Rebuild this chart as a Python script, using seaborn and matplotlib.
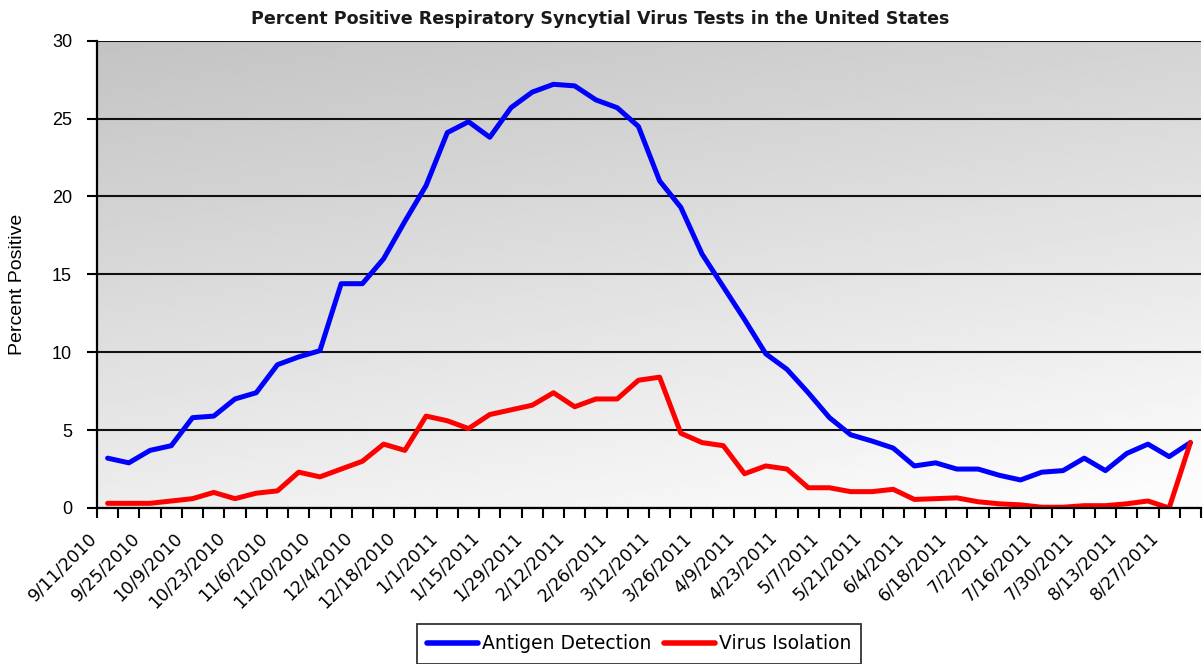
import numpy as np
import pandas as pd
import matplotlib
matplotlib.use("Agg")
import matplotlib.pyplot as plt
import seaborn as sns
from matplotlib.transforms import ScaledTranslation

# ---------------- data ----------------
tick_labels = ["9/11/2010", "9/25/2010", "10/9/2010", "10/23/2010", "11/6/2010",
               "11/20/2010", "12/4/2010", "12/18/2010", "1/1/2011", "1/15/2011",
               "1/29/2011", "2/12/2011", "2/26/2011", "3/12/2011", "3/26/2011",
               "4/9/2011", "4/23/2011", "5/7/2011", "5/21/2011", "6/4/2011",
               "6/18/2011", "7/2/2011", "7/16/2011", "7/30/2011", "8/13/2011",
               "8/27/2011"]

antigen = [3.2, 2.9, 3.7, 4.0, 5.8, 5.9, 7.0, 7.4, 9.2, 9.7,
           10.1, 14.4, 14.4, 16.0, 18.4, 20.7, 24.1, 24.8, 23.8, 25.7,
           26.7, 27.2, 27.1, 26.2, 25.7, 24.5, 21.0, 19.3, 16.3, 14.2,
           12.1, 9.9, 8.9, 7.4, 5.8, 4.7, 4.3, 3.85, 2.7, 2.9,
           2.5, 2.5, 2.1, 1.8, 2.3, 2.4, 3.2, 2.4, 3.5, 4.1,
           3.3, 4.2]

isolation = [0.3, 0.3, 0.3, 0.45, 0.6, 1.0, 0.6, 0.95, 1.1, 2.3,
             2.0, 2.5, 3.0, 4.1, 3.7, 5.9, 5.6, 5.1, 6.0, 6.3,
             6.6, 7.4, 6.5, 7.0, 7.0, 8.2, 8.4, 4.8, 4.2, 4.0,
             2.2, 2.7, 2.5, 1.3, 1.3, 1.05, 1.05, 1.2, 0.55, 0.6,
             0.65, 0.4, 0.27, 0.2, 0.05, 0.05, 0.15, 0.15, 0.27, 0.45,
             0.0, 4.2]

series_names = ["Antigen Detection", "Virus Isolation"]
series_colors = ["#0000ff", "#ff0000"]

weeks = np.arange(len(antigen))
df = pd.DataFrame({"week": weeks, series_names[0]: antigen, series_names[1]: isolation})
long = df.melt(id_vars="week", var_name="series", value_name="pct")

# ---------------- figure ----------------
W, H = 1203, 664
fig = plt.figure(figsize=(W / 100, H / 100), dpi=100)
ax = fig.add_axes([97 / W, 1 - 508 / H, (1201 - 97) / W, (508 - 40.7) / H])

# gradient background of plot area
ny, nx = 200, 200
yy, xx = np.mgrid[0:1:ny * 1j, 0:1:nx * 1j]
t = np.clip(0.75 * yy + 0.3 * xx, 0, 1)
grad = 0.765 + (0.985 - 0.765) * t
ax.imshow(grad, cmap="gray", vmin=0, vmax=1, extent=(-0.5, len(weeks) - 0.5, 0, 30),
          aspect="auto", zorder=0, origin="upper", interpolation="bilinear")

sns.lineplot(data=long, x="week", y="pct", hue="series", hue_order=series_names,
             palette=dict(zip(series_names, series_colors)), linewidth=3.6,
             ax=ax, legend=False, zorder=3)
for ln in ax.get_lines():
    ln.set_solid_capstyle("round")
    ln.set_solid_joinstyle("round")

ax.set_xlim(-0.5, len(weeks) - 0.5)
ax.set_ylim(0, 30)
ax.set_xlabel("")
ax.set_ylabel("")

# gridlines
ax.set_yticks(np.arange(0, 31, 5))
ax.yaxis.grid(True, color="#111111", linewidth=1.5)
ax.xaxis.grid(False)
ax.set_axisbelow(True)

for s in ["top", "right"]:
    ax.spines[s].set_visible(False)
for s in ["left", "bottom"]:
    ax.spines[s].set_color("black")
    ax.spines[s].set_linewidth(1.6)
    ax.spines[s].set_zorder(4)

ax.tick_params(axis="y", length=7, width=1.5, pad=11, colors="black", labelsize=13)
for lab in ax.get_yticklabels():
    lab.set_family("Liberation Sans")

# x ticks: marks between categories, labels every 2 weeks
ax.set_xticks(np.arange(-0.5, len(weeks), 1))
ax.set_xticklabels([])
ax.tick_params(axis="x", which="major", length=7, width=1.5, direction="out")
ax.set_xticks(np.arange(0, len(weeks), 2), labels=tick_labels, minor=True)
ax.tick_params(axis="x", which="minor", length=0, pad=19.5, labelsize=12.5)
off = ScaledTranslation(-13 / 100, 0, fig.dpi_scale_trans)
for lab in ax.get_xticklabels(minor=True):
    lab.set_rotation(45)
    lab.set_rotation_mode("anchor")
    lab.set_ha("right")
    lab.set_va("center")
    lab.set_family("DejaVu Sans")
    lab.set_transform(lab.get_transform() + off)

# texts
fig.text(600.5 / W, 1 - 18.5 / H, "Percent Positive Respiratory Syncytial Virus Tests in the United States",
         ha="center", va="center", fontsize=12.6, fontweight="bold", family="DejaVu Sans",
         color="#1a1a1a")
fig.text(18 / W, 1 - 284 / H, "Percent Positive", rotation=90, ha="center", va="center",
         fontsize=14, family="Liberation Sans")

handles = ax.get_lines()[:2]
leg = fig.legend(handles, series_names, loc="upper left",
                 bbox_to_anchor=(417 / W, 1 - 624 / H), borderaxespad=0.0,
                 ncol=2, frameon=True, fancybox=False, edgecolor="black",
                 handlelength=2.7, handletextpad=0.2, columnspacing=0.7,
                 borderpad=0.55, prop={"family": "DejaVu Sans", "size": 13.5})
leg.get_frame().set_linewidth(1.3)
for lh in leg.get_lines():
    lh.set_linewidth(4)

fig.savefig("out.png", dpi=100)
